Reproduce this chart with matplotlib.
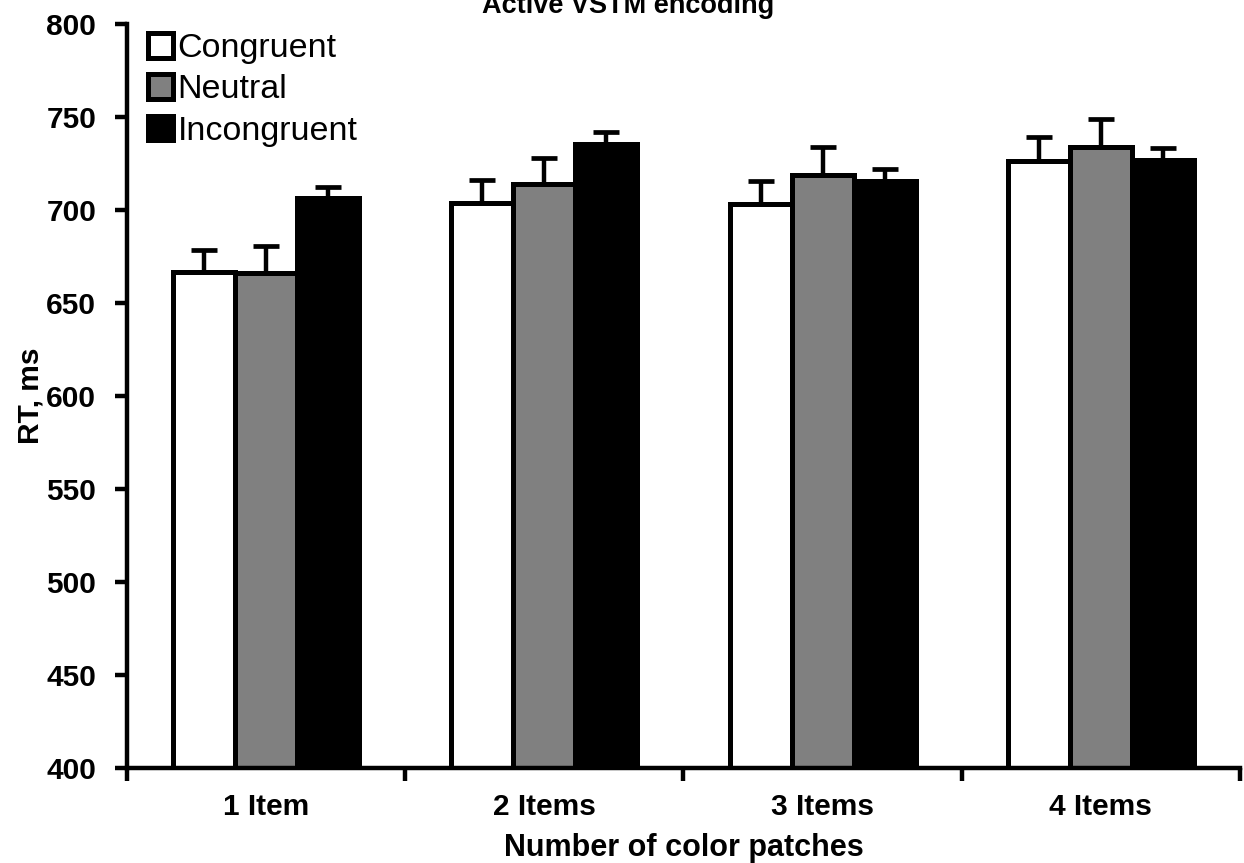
import matplotlib
matplotlib.use("Agg")
import matplotlib.pyplot as plt
from matplotlib.patches import Patch
import numpy as np

plt.rcParams['font.family'] = ['Liberation Sans', 'DejaVu Sans']

groups = ["1 Item", "2 Items", "3 Items", "4 Items"]
conditions = ["Congruent", "Neutral", "Incongruent"]
face_colors = ["white", "#808080", "black"]

congruent = [666.3, 703.5, 703.3, 726.2]
neutral = [665.8, 714.0, 718.5, 733.8]
incongruent = [706.2, 735.4, 715.5, 726.5]

congruent_err = [12.1, 12.6, 12.3, 12.8]
neutral_err = [14.7, 14.0, 15.0, 15.0]
incongruent_err = [6.2, 6.6, 6.6, 6.4]

means = [congruent, neutral, incongruent]
errs = [congruent_err, neutral_err, incongruent_err]

fig = plt.figure(figsize=(12.44, 8.63), dpi=100)
ax = fig.add_axes([0.102, 0.1100, 0.8948, 0.8627])

x = np.arange(len(groups))
width = 0.223
for i, (m, e, fc) in enumerate(zip(means, errs, face_colors)):
    pos = x + (i - 1) * width
    ax.bar(pos, m, width, bottom=0, color=fc, edgecolor="black",
           linewidth=3.6, zorder=2)
    ax.errorbar(pos, m, yerr=[np.zeros(len(e)), e], fmt="none",
                ecolor="black", elinewidth=3.2, capsize=9.5, capthick=3.4,
                zorder=1)

ax.set_xlim(-0.5, 3.5)
ax.set_ylim(400, 800)
ax.set_yticks(np.arange(400, 801, 50))

# group labels sit in the middle, tick marks sit between groups
ax.set_xticks(x)
ax.set_xticklabels(groups)
ax.set_xticks(np.arange(-0.5, 4.0, 1.0), minor=True)
ax.tick_params(axis="x", which="major", length=0, pad=18)
ax.tick_params(axis="x", which="minor", length=9, width=3.2, direction="out")
ax.tick_params(axis="y", length=9, width=3.2, pad=13)
for lab in ax.get_xticklabels() + ax.get_yticklabels():
    lab.set_fontsize(21.5)
    lab.set_fontweight("bold")

for side in ["top", "right"]:
    ax.spines[side].set_visible(False)
for side in ["left", "bottom"]:
    ax.spines[side].set_linewidth(3.2)
    ax.spines[side].set_zorder(3)

ax.set_ylabel("RT, ms", fontsize=21.5, fontweight="bold", labelpad=1)
fig.text(0.5494, 1 - 856 / 863, "Number of color patches", ha="center",
         va="baseline", fontsize=22, fontweight="bold")

handles = [Patch(facecolor=fc, edgecolor="black", linewidth=3.6)
           for fc in face_colors]
ax.legend(handles, conditions, loc="upper left",
          bbox_to_anchor=(0.019, 0.987), frameon=False, fontsize=24.5,
          handlelength=0.72, handleheight=0.72, handletextpad=0.15,
          labelspacing=0.3, borderpad=0, borderaxespad=0)

fig.text(0.505, 1 - 13 / 863, "Active VSTM encoding", ha="center",
         va="baseline", fontsize=19.5, fontweight="bold")

fig.savefig("out.png", dpi=100)
